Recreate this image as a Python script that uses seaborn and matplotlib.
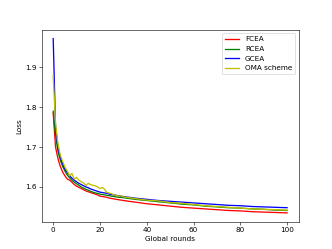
import pandas as pd
import numpy as np
import matplotlib
matplotlib.use('Agg')
import matplotlib.pyplot as plt
import seaborn as sns

# rounds: every round up to 30, then every 5
rounds = list(range(0, 31)) + list(range(35, 101, 5))

fcea = [1.785, 1.700, 1.672, 1.652, 1.638, 1.628, 1.620, 1.617, 1.612, 1.606,
        1.602, 1.599, 1.596, 1.593, 1.590, 1.588, 1.586, 1.584, 1.582, 1.580,
        1.577, 1.576, 1.575, 1.574, 1.572, 1.571, 1.570, 1.569, 1.568, 1.567,
        1.566,
        1.562, 1.558, 1.555, 1.552, 1.549, 1.547, 1.545, 1.543, 1.541, 1.540,
        1.538, 1.537, 1.536, 1.535]

rcea = [1.790, 1.730, 1.690, 1.668, 1.652, 1.640, 1.630, 1.623, 1.617, 1.612,
        1.608, 1.604, 1.600, 1.597, 1.594, 1.592, 1.589, 1.587, 1.585, 1.584,
        1.582, 1.581, 1.580, 1.579, 1.578, 1.577, 1.576, 1.575, 1.574, 1.574,
        1.573,
        1.569, 1.566, 1.563, 1.560, 1.557, 1.555, 1.552, 1.550, 1.548, 1.547,
        1.545, 1.544, 1.542, 1.541]

gcea = [1.972, 1.750, 1.700, 1.675, 1.658, 1.645, 1.636, 1.628, 1.622, 1.617,
        1.613, 1.609, 1.606, 1.603, 1.600, 1.598, 1.595, 1.593, 1.591, 1.589,
        1.587, 1.586, 1.585, 1.584, 1.582, 1.581, 1.580, 1.579, 1.578, 1.577,
        1.576,
        1.572, 1.569, 1.566, 1.564, 1.562, 1.560, 1.558, 1.556, 1.554, 1.553,
        1.551, 1.550, 1.549, 1.548]

oma = [1.879, 1.760, 1.710, 1.680, 1.665, 1.650, 1.640, 1.628, 1.634, 1.620,
       1.624, 1.617, 1.613, 1.610, 1.604, 1.609, 1.606, 1.604, 1.603, 1.600,
       1.596, 1.599, 1.594, 1.586, 1.585, 1.583, 1.580, 1.579, 1.577, 1.578,
       1.575,
       1.571, 1.567, 1.565, 1.561, 1.559, 1.556, 1.553, 1.551, 1.549, 1.547,
       1.545, 1.544, 1.543, 1.542]

plt.figure(figsize=(6.4, 4.8))

lw = 1.8
sns.lineplot(x=rounds, y=fcea, color='#ff0000', label='FCEA', linewidth=lw)
sns.lineplot(x=rounds, y=rcea, color='#008000', label='RCEA', linewidth=lw)
sns.lineplot(x=rounds, y=gcea, color='#0000ff', label='GCEA', linewidth=lw)
ax = sns.lineplot(x=rounds, y=oma, color='#bfbf00', label='OMA scheme', linewidth=lw)

ax.set_yticks([1.6, 1.7, 1.8, 1.9])
plt.xlabel('Global rounds')
plt.ylabel('Loss')
plt.legend(loc='upper right')

plt.savefig('out.png', dpi=51.875)
